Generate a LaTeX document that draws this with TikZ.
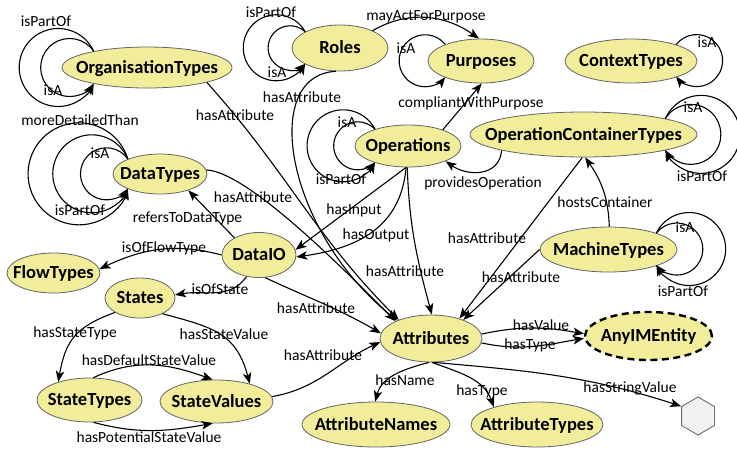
\documentclass[tikz,border=0pt]{standalone}
\usepackage{fontspec}
\setmainfont{Carlito}
\usetikzlibrary{arrows.meta,shapes.geometric}
\definecolor{clsfill}{RGB}{241,237,155}
\definecolor{clsline}{RGB}{100,100,100}
\definecolor{litfill}{RGB}{242,242,242}
\definecolor{litline}{RGB}{110,110,110}
% centre a class name on the node without letting it size the ellipse
\newcommand\ctrtext[1]{\makebox[0pt]{\raisebox{-0.32em}[0pt][0pt]{#1}}}
\begin{document}
\begin{tikzpicture}[x=1pt,y=1pt,
  cls/.style={ellipse, fill=clsfill, draw=clsline, line width=0.8pt, inner sep=0pt,
              font=\fontsize{18.5}{20}\selectfont\bfseries},
  ext/.style={cls, draw=black, line width=2.4pt, dash pattern=on 7pt off 4.5pt},
  lit/.style={regular polygon, regular polygon sides=6, shape border rotate=30,
              minimum size=38pt, inner sep=0pt, fill=litfill, draw=litline, line width=0.9pt},
  rel/.style={draw=black, line width=1.1pt, -{Stealth[length=11pt,width=8.5pt,inset=2.8pt]}},
  lab/.style={inner sep=0pt, font=\fontsize{15.5}{17}\selectfont, text height=10pt, text depth=0pt},
]
\useasboundingbox (0,0) rectangle (737,-448);

% ---------- classes ----------
\node[cls, minimum width=170pt, minimum height=41pt] (orgtypes) at (147,-67.5) {\ctrtext{OrganisationTypes}};
\node[cls, minimum width=96pt,  minimum height=46pt] (roles)    at (340,-48)   {\ctrtext{Roles}};
\node[cls, minimum width=106pt, minimum height=44pt] (purp)     at (481,-61)   {\ctrtext{Purposes}};
\node[cls, minimum width=132pt, minimum height=44pt] (ctx)      at (631,-61)   {\ctrtext{ContextTypes}};
\node[cls, minimum width=227pt, minimum height=45pt] (oct)      at (583.5,-134.5) {\ctrtext{OperationContainerTypes}};
\node[cls, minimum width=106pt, minimum height=42pt] (ops)      at (408,-146)  {\ctrtext{Operations}};
\node[cls, minimum width=94pt,  minimum height=40pt] (dtypes)   at (160,-174)  {\ctrtext{DataTypes}};
\node[cls, minimum width=74pt,  minimum height=45pt] (dataio)   at (259,-255)  {\ctrtext{DataIO}};
\node[cls, minimum width=93pt,  minimum height=40pt] (ftypes)   at (53.5,-273) {\ctrtext{FlowTypes}};
\node[cls, minimum width=70pt,  minimum height=40pt] (states)   at (140,-298)  {\ctrtext{States}};
\node[cls, minimum width=105pt, minimum height=44pt] (sttypes)  at (89.5,-400) {\ctrtext{StateTypes}};
\node[cls, minimum width=113pt, minimum height=43pt] (stvalues) at (216.5,-401.5) {\ctrtext{StateValues}};
\node[cls, minimum width=137pt, minimum height=45pt] (mtypes)   at (608.5,-249.5) {\ctrtext{MachineTypes}};
\node[cls, minimum width=102pt, minimum height=47pt] (attr)     at (431,-338.5) {\ctrtext{Attributes}};
\node[ext, minimum width=127pt, minimum height=48pt] (any)      at (648.5,-336) {\ctrtext{AnyIMEntity}};
\node[cls, minimum width=148pt, minimum height=45pt] (anames)   at (376,-424.5) {\ctrtext{AttributeNames}};
\node[cls, minimum width=132pt, minimum height=45pt] (atypes)   at (537,-424.5) {\ctrtext{AttributeTypes}};
\node[lit] (strlit) at (698,-416) {};

% ---------- self loops (circular arcs from the upper to the lower anchor) ----------
\draw[rel] (orgtypes.163) arc[start angle=24.7, end angle=335.3, radius=39pt];
\draw[rel] (orgtypes.163) arc[start angle=34.2, end angle=325.8, radius=29pt];
\draw[rel] (roles.155) arc[start angle=29, end angle=331, radius=33pt];
\draw[rel] (roles.155) arc[start angle=46.7, end angle=313.3, radius=22pt];
\draw[rel] (purp.155) arc[start angle=39.1, end angle=320.9, radius=26pt];
\draw[rel] (ctx.20) arc[start angle=142, end angle=-142, radius=26pt];
\draw[rel] (oct.11) arc[start angle=156.1, end angle=-156.1, radius=39pt];
\draw[rel] (oct.11) arc[start angle=148.2, end angle=-148.2, radius=30pt];
\draw[rel] (mtypes.19) arc[start angle=154, end angle=-154, radius=36.5pt];
\draw[rel] (mtypes.19) arc[start angle=142, end angle=-142, radius=26pt];
\draw[rel] (ops.153) arc[start angle=27.5, end angle=332.5, radius=36pt];
\draw[rel] (ops.153) arc[start angle=43.8, end angle=316.2, radius=24pt];
\draw[rel] (dtypes.155) arc[start angle=16.9, end angle=343.1, radius=51pt];
\draw[rel] (dtypes.155) arc[start angle=22.3, end angle=337.7, radius=39pt];
\draw[rel] (dtypes.155) arc[start angle=34.7, end angle=325.3, radius=26pt];

% ---------- relations ----------
\draw[rel] (orgtypes.-14) to[out=-48,in=135] (attr.150);
\draw[rel] (roles.-100) .. controls (260,-75) and (285,-230) .. (attr.152);
\draw[rel] (dtypes.5) .. controls (245,-172) and (330,-255) .. (attr.154);
\draw[rel] (roles.28) to[out=30,in=145] (purp.95);
\draw[rel] (ops.25) -- (purp.-88);
\draw[rel] (ops.-95) -- (dataio.8);
\draw[rel] (ops.-95) to[out=-95,in=8,looseness=1.1] (dataio.-3);
\draw[rel] (ops.-92) to[out=-88,in=105] (attr.88);
\draw[rel] (oct.191) to[out=-95,in=-35,looseness=1.2] (ops.-22);
\draw[rel] (mtypes.88) to[out=92,in=-55] (oct.-86);
\draw[rel] (oct.-93) -- (attr.35);
\draw[rel] (mtypes.180) -- (attr.30);
\draw[rel] (dataio.145) -- (dtypes.-30);
\draw[rel] (dataio.180) to[out=165,in=25] (ftypes.5);
\draw[rel] (dataio.-120) to[out=-125,in=10] (states.5);
\draw[rel] (dataio.-75) to[out=-25,in=150] (attr.174);
\draw[rel] (states.210) to[out=200,in=80,looseness=1.2] (sttypes.150);
\draw[rel] (states.-35) to[out=-15,in=105,looseness=1.2] (stvalues.28);
\draw[rel] (sttypes.80) to[out=25,in=160] (stvalues.100);
\draw[rel] (sttypes.-80) to[out=-15,in=-170] (stvalues.-100);
\draw[rel] (stvalues.5) to[out=10,in=205] (attr.184);
\draw[rel] (attr.5) to[out=12,in=170] (any.178);
\draw[rel] (attr.-5) to[out=-12,in=190] (any.182);
\draw[rel] (attr.-95) to[out=195,in=75] (anames.92);
\draw[rel] (attr.-88) to[out=-20,in=110] (atypes.158);
\draw[rel] (attr.-84) to[out=-5,in=162] (strlit.150);

% ---------- relation names ----------
\node[lab] (l1)  at (46,-21)   {isPartOf};
\node[lab] (l2)  at (53,-90)   {isA};
\node[lab] (l3)  at (80,-120)  {moreDetailedThan};
\node[lab] (l4)  at (100,-153) {isA};
\node[lab] (l5)  at (80,-210)  {isPartOf};
\node[lab] (l6)  at (235,-115) {hasAttribute};
\node[lab] (l7)  at (271,-12)  {isPartOf};
\node[lab] (l8)  at (277,-72)  {isA};
\node[lab] (l9)  at (302,-97)  {hasAttribute};
\node[lab] (l10) at (426,-15)  {mayActForPurpose};
\node[lab] (l11) at (406,-48)  {isA};
\node[lab] (l12) at (471,-102) {compliantWithPurpose};
\node[lab] (l13) at (707,-42)  {isA};
\node[lab] (l14) at (693,-107) {isA};
\node[lab] (l15) at (702,-176) {isPartOf};
\node[lab] (l16) at (347,-122) {isA};
\node[lab] (l17) at (341,-179) {isPartOf};
\node[lab] (l18) at (253,-197) {hasAttribute};
\node[lab] (l19) at (187.5,-217) {refersToDataType};
\node[lab] (l20) at (164,-247) {isOfFlowType};
\node[lab] (l21) at (354,-209) {hasInput};
\node[lab] (l22) at (376,-234) {hasOutput};
\node[lab] (l23) at (483,-182) {providesOperation};
\node[lab] (l24) at (405,-271) {hasAttribute};
\node[lab] (l25) at (487,-238) {hasAttribute};
\node[lab] (l26) at (605,-202) {hostsContainer};
\node[lab] (l27) at (685,-227) {isA};
\node[lab] (l28) at (683,-291) {isPartOf};
\node[lab] (l29) at (521,-277) {hasAttribute};
\node[lab] (l30) at (220,-289) {isOfState};
\node[lab] (l31) at (316,-308) {hasAttribute};
\node[lab] (l32) at (75,-332)  {hasStateType};
\node[lab] (l33) at (224,-334) {hasStateValue};
\node[lab] (l34) at (149,-360) {hasDefaultStateValue};
\node[lab] (l35) at (149,-437) {hasPotentialStateValue};
\node[lab] (l36) at (323,-355) {hasAttribute};
\node[lab] (l37) at (541,-325) {hasValue};
\node[lab] (l38) at (530,-344) {hasType};
\node[lab] (l39) at (405,-380) {hasName};
\node[lab] (l40) at (482,-390) {hasType};
\node[lab] (l41) at (630,-387) {hasStringValue};
\end{tikzpicture}
\end{document}
